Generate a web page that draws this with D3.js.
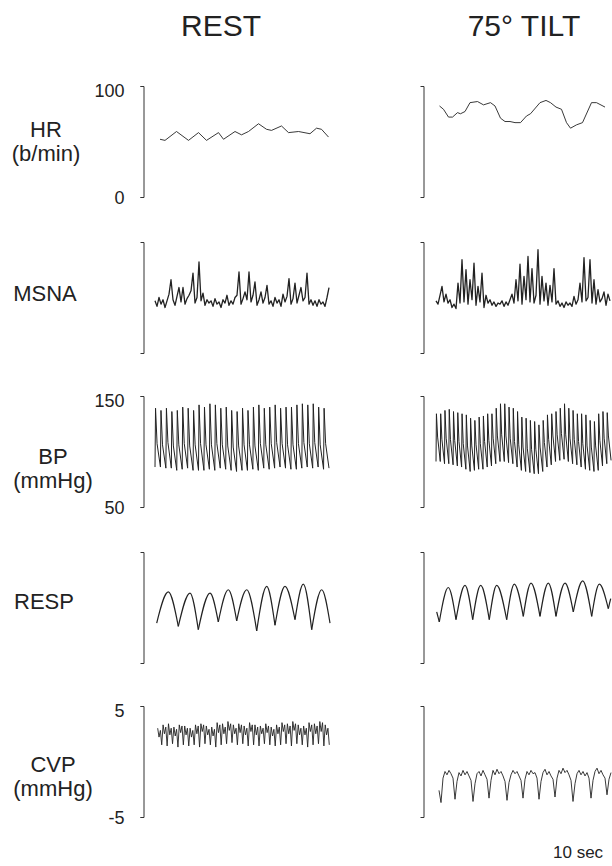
<!DOCTYPE html>
<html>
<head>
<meta charset="utf-8">
<script src="https://cdn.jsdelivr.net/npm/d3@7"></script>
<style>
  body { margin: 0; background: #fff; }
  svg { font-family: "Liberation Sans", Arial, Helvetica, sans-serif; }
</style>
</head>
<body>
<div id="chart"></div>
<script>
var width = 612, height = 866;

var columns = ['REST', '75° TILT'];
var rowNames = [['HR', '(b/min)'], ['MSNA'], ['BP', '(mmHg)'], ['RESP'], ['CVP', '(mmHg)']];
var rowDomains = [[0, 100], [0, 100], [50, 150], [0, 100], [-5, 5]];
var rowLabelled = [true, false, true, false, true]; // tick numbers on the REST axis only
var scaleNote = '10 sec';

// HR, beat by beat (time s, b/min)
var hrRestTimes = [1.0, 2.0, 4.3, 6.7, 8.7, 10.3, 12.7, 13.7, 16.0, 17.3, 18.7, 20.7, 22.3, 23.3, 25.3, 26.7, 28.7, 31.0, 32.3, 33.3, 34.7];
var hrRest = [52, 51, 59, 51, 58, 51, 58, 52, 59, 56, 59, 66, 61, 60, 64, 58, 59, 57, 62, 61, 54];
var hrTiltTimes = [0.7, 1.5, 2.5, 3.3, 4.3, 4.9, 5.8, 6.8, 8.3, 9.5, 10.9, 11.8, 12.9, 13.8, 14.8, 15.8, 16.9, 18.1, 18.9, 20.8, 22.0, 22.9, 24.0, 25.1, 26.1, 26.9, 28.1, 29.3, 31.1, 32.1, 33.8];
var hrTilt = [82, 79, 72, 72, 76, 75, 77, 85, 86, 83, 85, 82, 71, 68, 68, 67, 67, 73, 75, 85, 87, 85, 81, 79, 67, 62, 65, 67, 85, 85, 81];

// MSNA, sampled every 0.4 s (arbitrary units)
var msnaStep = 0.4;
var msnaRest = [47,42,50,44,48,41,47,53,66,48,
  43,51,59,46,59,44,49,52,56,72,
  45,50,82,47,54,43,48,45,47,42,
  49,44,46,41,48,45,52,43,47,44,
  50,52,73,44,49,55,48,73,46,52,
  64,43,48,55,45,50,61,44,47,42,
  50,45,48,42,53,46,51,67,44,49,
  63,45,52,59,47,50,72,44,48,43,
  47,42,48,44,46,42,50,59];
var msnaTilt = [47,44,52,60,46,53,45,48,41,44,
  40,63,45,84,46,75,44,66,48,81,
  43,60,46,72,41,52,45,48,43,46,
  42,45,44,47,42,46,43,48,53,45,
  66,47,80,44,69,48,87,46,76,45,
  52,93,44,69,47,63,43,61,46,76,
  44,47,42,45,41,46,43,45,42,51,
  44,48,63,46,86,47,50,84,45,66,
  44,57,46,49,55,43,53,47];

// BP, per beat (mmHg)
var bpRestRR = 1.0875;
var bpRestSys = [139,137,139,136,137,140,139,137,142,140,143,142,139,140,137,136,139,137,140,142,139,140,142,139,140,140,142,143,142,143,140,139];
var bpRestNotch = [107,106,108,105,106,107,105,106,107,106,106,107,106,105,104,105,106,106,105,107,106,107,108,107,106,106,107,108,107,108,106,107];
var bpRestDia = [86,85,85,83,84,85,83,83,83,84,83,85,84,83,82,83,83,84,83,85,84,85,86,85,84,84,85,86,85,86,84,85];
var bpTiltRR = 0.854;
var bpTiltSys = [134,134,137,138,136,135,134,133,130,128,131,132,134,134,139,143,143,140,139,136,131,130,128,127,124,128,133,134,136,139,143,139,137,134,134,133,128,127,134,136,135];
var bpTiltNotch = [113,111,112,111,110,109,107,105,105,106,107,109,110,112,114,115,114,112,109,106,104,103,102,102,104,108,111,114,115,116,115,112,111,109,107,105,104,105,110,112,114];
var bpTiltDia = [91,89,89,88,87,86,84,82,83,84,84,86,87,89,91,91,90,89,86,83,82,81,80,80,82,86,88,91,92,93,91,89,88,86,84,83,82,83,87,89,92];

// RESP, turning points (time s, arbitrary units)
var respRestTimes = [0.34, 2.66, 4.66, 7.0, 8.66, 11.0, 12.66, 14.66, 16.34, 18.34, 20.34, 22.34, 24.0, 26.0, 28.0, 29.66, 31.34, 33.34, 35.0];
var respRest = [36, 64, 33, 63, 30, 63, 37, 66, 38, 66, 29, 69, 34, 69, 39, 71, 30, 66, 36];
var respTiltTimes = [0.14, 0.66, 2.46, 4.0, 5.8, 7.34, 8.94, 10.66, 12.14, 14.14, 15.66, 17.46, 19.0, 20.8, 22.46, 24.0, 25.8, 27.46, 29.34, 31.14, 32.66, 34.46, 34.94];
var respTilt = [46, 37, 68, 39, 70, 39, 70, 39, 70, 39, 71, 42, 72, 42, 72, 42, 72, 46, 74, 42, 71, 49, 58];

// CVP rest, per beat: a wave, c dip, v wave, y trough (mmHg)
var cvpRestRR = 1.081;
var cvpRestA = [3.0,3.3,3.4,3.1,3.3,3.2,3.0,3.3,3.4,3.2,3.1,3.5,3.4,3.6,3.3,3.4,3.2,3.5,3.3,3.2,3.4,3.1,3.3,3.5,3.4,3.6,3.3,3.2,3.5,3.4,3.6,3.3];
var cvpRestC = [2.2,2.5,2.4,2.3,2.6,2.4,2.2,2.5,2.7,2.4,2.3,2.6,2.5,2.8,2.5,2.6,2.4,2.7,2.4,2.5,2.6,2.3,2.5,2.7,2.5,2.8,2.4,2.4,2.7,2.5,2.7,2.4];
var cvpRestV = [2.8,3.1,3.0,2.9,3.2,3.0,2.8,3.2,3.3,2.9,2.9,3.3,3.1,3.4,3.0,3.3,3.0,3.3,3.1,3.0,3.2,2.9,3.1,3.3,3.2,3.4,3.0,3.0,3.3,3.2,3.5,3.0];
var cvpRestY = [1.5,1.4,1.6,1.3,1.5,1.4,1.5,1.3,1.6,1.5,1.3,1.5,1.6,1.7,1.5,1.6,1.4,1.5,1.4,1.6,1.5,1.4,1.5,1.6,1.4,1.6,1.5,1.3,1.5,1.6,1.4,1.5];
// CVP tilt, sampled every 0.4 s
var cvpTiltStep = 0.4;
var cvpTilt = [-2.6,-3.7,-1.5,-0.9,-1.2,-0.8,-1.1,-1.5,-3.4,-1.8,
  -1.0,-1.3,-0.8,-1.2,-0.9,-1.3,-1.7,-3.6,-2.0,-1.1,
  -0.9,-1.3,-0.8,-1.2,-1.6,-3.3,-1.7,-0.8,-1.2,-0.7,
  -1.1,-0.9,-1.3,-1.8,-3.5,-1.9,-1.2,-0.8,-1.1,-0.9,
  -1.3,-1.7,-3.3,-1.6,-0.9,-1.2,-0.8,-1.1,-1.0,-1.5,
  -3.4,-1.8,-1.0,-0.7,-1.2,-0.9,-1.3,-1.6,-3.2,-1.5,
  -0.8,-1.1,-0.6,-1.0,-0.8,-1.2,-1.7,-3.6,-2.0,-1.1,
  -0.8,-1.2,-0.9,-1.3,-1.0,-1.5,-3.3,-1.7,-0.9,-0.6,
  -1.1,-0.8,-1.2,-1.5,-3.0,-1.6,-1.0];

// layout
var panelTop = [86, 242, 396, 552, 706];
var panelH = 111;
var axisX = [143, 423];
var colRange = [[155, 330], [436, 611]];
var tDomain = [0, 35];
var titleX = [221, 524];
var labelX = [46, 45, 53, 44, 53];
var labelDy = [-5, 3, 12, 1, 10];
var ink = '#222';

function pairs(times, vals) {
  return vals.map(function(v, i) { return [times[i], v]; });
}
function sampled(vals, t0, step) {
  return vals.map(function(v, i) { return [t0 + i * step, v]; });
}
function beats(sys, notch, dia, rr, t0) {
  var pts = [[t0, dia[0]]];
  sys.forEach(function(s, i) {
    var b = t0 + i * rr;
    pts.push([b + 0.1 * rr, s]);
    pts.push([b + 0.38 * rr, notch[i]]);
    pts.push([b + rr, dia[i]]);
  });
  return pts;
}
function cvpBeats(a, c, v, y, rr, t0) {
  var pts = [];
  a.forEach(function(d, i) {
    var b = t0 + i * rr;
    pts.push([b + 0.125 * rr, d]);
    pts.push([b + 0.375 * rr, c[i]]);
    pts.push([b + 0.625 * rr, v[i]]);
    pts.push([b + 0.875 * rr, y[i]]);
  });
  return pts;
}
// breathing: one smooth piece per cycle so the troughs stay sharp
function cycles(times, vals) {
  var segs = [], cur = [[times[0], vals[0]]];
  for (var i = 1; i < vals.length; i++) {
    cur.push([times[i], vals[i]]);
    if (i < vals.length - 1 && vals[i] < vals[i - 1] && vals[i] < vals[i + 1]) {
      segs.push(cur);
      cur = [[times[i], vals[i]]];
    }
  }
  if (cur.length > 1) segs.push(cur);
  return segs;
}

var traces = [
  [[pairs(hrRestTimes, hrRest)], [pairs(hrTiltTimes, hrTilt)]],
  [[sampled(msnaRest, 0, msnaStep)], [sampled(msnaTilt, 0, msnaStep)]],
  [[beats(bpRestSys, bpRestNotch, bpRestDia, bpRestRR, 0)], [beats(bpTiltSys, bpTiltNotch, bpTiltDia, bpTiltRR, 0)]],
  [cycles(respRestTimes, respRest), cycles(respTiltTimes, respTilt)],
  [[cvpBeats(cvpRestA, cvpRestC, cvpRestV, cvpRestY, cvpRestRR, 0.4)], [sampled(cvpTilt, 0.6, cvpTiltStep)]]
];
var strokeW = [0.9, 1.3, 1.0, 1.2, 0.9];

var svg = d3.select('#chart').append('svg')
  .attr('width', width)
  .attr('height', height);

svg.selectAll('.col-title')
  .data(columns)
  .enter().append('text')
    .attr('class', 'col-title')
    .attr('x', function(d, i) { return titleX[i]; })
    .attr('y', 36)
    .attr('text-anchor', 'middle')
    .style('font-size', '30px')
    .style('fill', ink)
    .text(function(d) { return d; });

var xs = colRange.map(function(r) { return d3.scaleLinear().domain(tDomain).range(r); });

rowNames.forEach(function(names, r) {
  var y = d3.scaleLinear().domain(rowDomains[r]).range([panelTop[r] + panelH, panelTop[r]]);
  var mid = panelTop[r] + panelH / 2;

  var lab = svg.append('text')
    .attr('text-anchor', 'middle')
    .style('font-size', '22px')
    .style('fill', ink);
  names.forEach(function(n, k) {
    lab.append('tspan')
      .attr('x', labelX[r])
      .attr('y', mid + labelDy[r] + k * 24)
      .text(n);
  });

  axisX.forEach(function(ax, c) {
    var axis = d3.axisLeft(y)
      .tickValues(c === 0 && rowLabelled[r] ? rowDomains[r] : [])
      .tickFormat(function(d) { return String(d); })
      .tickSizeInner(3)
      .tickSizeOuter(3)
      .tickPadding(16);
    var g = svg.append('g')
      .attr('transform', 'translate(' + (ax + 0.5) + ',0)')
      .call(axis);
    g.select('.domain').attr('stroke', '#333').attr('stroke-width', 1);
    g.selectAll('.tick line').attr('stroke', '#333');
    g.selectAll('.tick text')
      .attr('dy', function(d) { return d === rowDomains[r][1] ? '0.6em' : '0.36em'; })
      .style('font-size', '18px')
      .style('font-family', '"Liberation Sans", Arial, sans-serif')
      .attr('fill', ink);

    var line = d3.line()
      .x(function(d) { return xs[c](d[0]); })
      .y(function(d) { return y(d[1]); })
      .curve(r === 3 ? d3.curveMonotoneX : d3.curveLinear);

    svg.append('g').selectAll('path')
      .data(traces[r][c])
      .enter().append('path')
        .attr('d', line)
        .attr('fill', 'none')
        .attr('stroke', ink)
        .attr('stroke-width', strokeW[r])
        .attr('stroke-linejoin', 'round');
  });
});

svg.append('text')
  .attr('x', 553)
  .attr('y', 858)
  .style('font-size', '17px')
  .style('fill', ink)
  .text(scaleNote);
</script>
</body>
</html>
